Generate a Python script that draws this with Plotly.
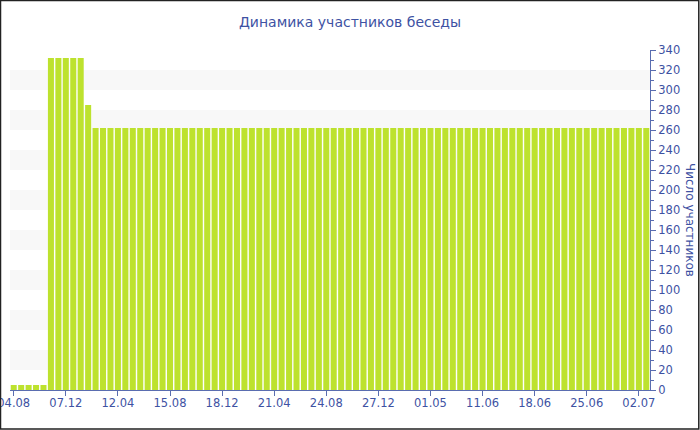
import plotly.graph_objects as go

# ---- data ----
dates = [
    "2016-08-04", "2016-08-22", "2016-09-09", "2016-09-27", "2016-10-15", "2016-11-02", "2016-11-20",
    "2016-12-07", "2016-12-25", "2017-01-12", "2017-01-30", "2017-02-17", "2017-03-07", "2017-03-25",
    "2017-04-12", "2017-04-30", "2017-05-18", "2017-06-05", "2017-06-23", "2017-07-11", "2017-07-29",
    "2017-08-15", "2017-09-02", "2017-09-20", "2017-10-08", "2017-10-26", "2017-11-13", "2017-12-01",
    "2017-12-18", "2018-01-05", "2018-01-23", "2018-02-10", "2018-02-28", "2018-03-18", "2018-04-05",
    "2018-04-21", "2018-05-09", "2018-05-27", "2018-06-14", "2018-07-02", "2018-07-20", "2018-08-07",
    "2018-08-24", "2018-09-11", "2018-09-29", "2018-10-17", "2018-11-04", "2018-11-22", "2018-12-10",
    "2018-12-27", "2019-01-14", "2019-02-01", "2019-02-19", "2019-03-09", "2019-03-27", "2019-04-14",
    "2019-05-01", "2019-05-07", "2019-05-13", "2019-05-19", "2019-05-25", "2019-05-31", "2019-06-06",
    "2019-06-11", "2019-06-12", "2019-06-13", "2019-06-14", "2019-06-15", "2019-06-16", "2019-06-17",
    "2019-06-18", "2019-06-19", "2019-06-20", "2019-06-21", "2019-06-22", "2019-06-23", "2019-06-24",
    "2019-06-25", "2019-06-26", "2019-06-27", "2019-06-28", "2019-06-29", "2019-06-30", "2019-07-01",
    "2019-07-02", "2019-07-03",
]

members = [
    5, 5, 5, 5, 5, 332, 332, 332, 332, 332,
    285, 262, 262, 262, 262, 262, 262, 262, 262, 262,
    262, 262, 262, 262, 262, 262, 262, 262, 262, 262,
    262, 262, 262, 262, 262, 262, 262, 262, 262, 262,
    262, 262, 262, 262, 262, 262, 262, 262, 262, 262,
    262, 262, 262, 262, 262, 262, 262, 262, 262, 262,
    262, 262, 262, 262, 262, 262, 262, 262, 262, 262,
    262, 262, 262, 262, 262, 262, 262, 262, 262, 262,
    262, 262, 262, 262, 262, 262,
]

tick_dates = ["2016-08-04", "2016-12-07", "2017-04-12", "2017-08-15", "2017-12-18", "2018-04-21",
              "2018-08-24", "2018-12-27", "2019-05-01", "2019-06-11", "2019-06-18", "2019-06-25",
              "2019-07-02"]
tick_labels = ["04.08", "07.12", "12.04", "15.08", "18.12", "21.04", "24.08", "27.12",
               "01.05", "11.06", "18.06", "25.06", "02.07"]

y_max = 340
band_starts = [20, 60, 100, 140, 180, 220, 260, 300]
band_height = 20

title_text = "Динамика участников беседы"
y_title = "Число участников"

# ---- style ----
W, H = 700, 430
ML, MR, MT, MB = 10, 50, 50, 40
PW = W - ML - MR
PH = H - MT - MB
BLUE = "#3e52a3"
AXIS = "#5a6db0"
BAR = "#bde22e"
FONT = "DejaVu Sans, Verdana, sans-serif"


def px_x(p):
    return (p - ML) / PW


def px_y(p):
    return (MT + PH - p) / PH


fig = go.Figure()
fig.add_trace(go.Bar(
    x=dates, y=members, marker=dict(color=BAR, line=dict(width=0)),
    hovertemplate="%{x}: %{y}<extra></extra>",
))

shapes = []
for b in band_starts:
    shapes.append(dict(type="rect", xref="paper", yref="y", x0=0, x1=1, y0=b, y1=b + band_height,
                       fillcolor="#f8f8f8", line=dict(width=0), layer="below"))
# outer border of chart
shapes.append(dict(type="rect", xref="paper", yref="paper",
                   x0=px_x(0.5), x1=px_x(698.8), y0=px_y(429), y1=px_y(0.5),
                   line=dict(color="#222222", width=1.5), fillcolor="rgba(0,0,0,0)", layer="above"))

fig.update_layout(
    width=W, height=H,
    margin=dict(l=ML, r=MR, t=MT, b=MB, pad=0, autoexpand=False),
    paper_bgcolor="white", plot_bgcolor="white",
    showlegend=False,
    bargap=0.19,
    font=dict(family=FONT, color=BLUE, size=11),
    title=dict(text=title_text, x=0.5, xanchor="center", y=1 - 22 / H, yanchor="middle",
               yref="container", font=dict(family=FONT, size=14, color=BLUE)),
    shapes=shapes,
    xaxis=dict(
        type="category", categoryorder="array", categoryarray=dates,
        tickmode="array", tickvals=tick_dates, ticktext=tick_labels,
        showgrid=False, zeroline=False, automargin=False,
        showline=True, linecolor=AXIS, linewidth=1,
        ticks="outside", ticklen=5, tickcolor=AXIS, tickwidth=1,
        ticklabelstandoff=-3,
        tickfont=dict(family=FONT, size=11.5, color=BLUE),
        fixedrange=True,
    ),
    yaxis=dict(
        side="right", range=[0, y_max], dtick=20, tick0=0,
        showgrid=False, zeroline=False, automargin=False,
        showline=True, linecolor=AXIS, linewidth=1,
        ticks="outside", ticklen=5, tickcolor=AXIS, tickwidth=1,
        tickfont=dict(family=FONT, size=11.5, color=BLUE),
        minor=dict(dtick=10, ticks="outside", ticklen=3, tickcolor=AXIS, showgrid=False),
        fixedrange=True,
    ),
    annotations=[dict(
        text=y_title, textangle=90, xref="paper", yref="paper",
        x=px_x(690), y=0.5, xanchor="center", yanchor="middle", showarrow=False,
        font=dict(family=FONT, size=12, color=BLUE),
    )],
)

fig.write_html(
    "out.html",
    config={"displayModeBar": False},
    post_script="document.body.style.margin='0';document.body.style.overflow='hidden';",
)
